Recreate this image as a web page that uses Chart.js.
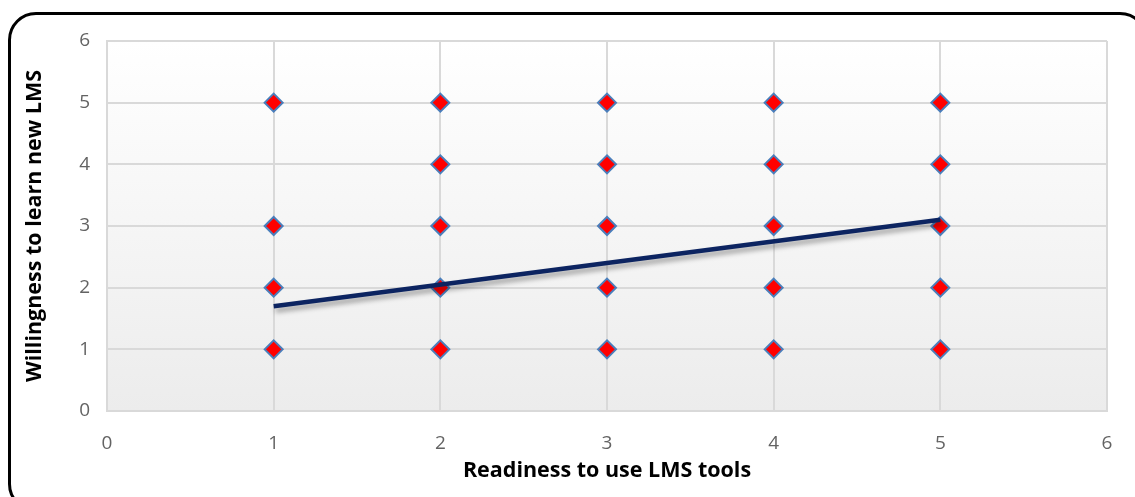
<!DOCTYPE html>
<html>
<head>
<meta charset="utf-8">
<script src="https://cdn.jsdelivr.net/npm/chart.js@4/dist/chart.umd.min.js"></script>
<style>
  html, body { margin: 0; padding: 0; background: #fff; overflow: hidden; }
  #wrap { position: relative; width: 1135px; height: 497px; }
  #frame {
    position: absolute; left: 8px; top: 12px; width: 1140px; height: 500px;
    border: 3px solid #000; border-radius: 28px; box-sizing: border-box;
    pointer-events: none;
  }
</style>
</head>
<body>
<div id="wrap">
  <canvas id="chart" width="1135" height="497"></canvas>
  <div id="frame"></div>
</div>
<script>
// survey responses: readiness (x) vs willingness (y)
const readiness   = [1, 1, 1, 1, 2, 2, 2, 2, 2, 3, 3, 3, 3, 3, 4, 4, 4, 4, 4, 5, 5, 5, 5, 5];
const willingness = [5, 3, 2, 1, 5, 4, 3, 2, 1, 5, 4, 3, 2, 1, 5, 4, 3, 2, 1, 5, 4, 3, 2, 1];

// linear trend endpoints
const trendX = [1, 5];
const trendY = [1.7, 3.1];

const axisMin = 0;
const axisMax = 6;

const points = readiness.map((x, i) => ({ x: x, y: willingness[i] }));
const trend = trendX.map((x, i) => ({ x: x, y: trendY[i] }));

// soft vertical gradient behind the plot area
const plotBackground = {
  id: "plotBackground",
  beforeDraw(chart) {
    const { ctx, chartArea: a } = chart;
    const g = ctx.createLinearGradient(0, a.top, 0, a.bottom);
    g.addColorStop(0, "#ffffff");
    g.addColorStop(1, "#ececec");
    ctx.save();
    ctx.fillStyle = g;
    ctx.fillRect(a.left, a.top, a.right - a.left, a.bottom - a.top);
    ctx.restore();
  },
};

// drop shadow under the trend line
const lineShadow = {
  id: "lineShadow",
  beforeDatasetDraw(chart, args) {
    if (args.index !== 0) return;
    const ctx = chart.ctx;
    ctx.save();
    ctx.shadowColor = "rgba(0, 0, 0, 0.35)";
    ctx.shadowBlur = 5;
    ctx.shadowOffsetX = 2;
    ctx.shadowOffsetY = 4;
  },
  afterDatasetDraw(chart, args) {
    if (args.index !== 0) return;
    chart.ctx.restore();
  },
};

const tickFont = { family: "'Open Sans', Lato, sans-serif", size: 19 };
const titleFont = { family: "'Open Sans', Lato, sans-serif", size: 21.5, weight: "bold" };
const gridColor = "#d9d9d9";
const tickColor = "#636363";

new Chart(document.getElementById("chart").getContext("2d"), {
  type: "scatter",
  data: {
    datasets: [
      {
        label: "Trend",
        type: "line",
        data: trend,
        borderColor: "#0c2461",
        borderWidth: 4.5,
        pointRadius: 0,
        fill: false,
        order: 0,
      },
      {
        label: "Responses",
        data: points,
        pointStyle: "rectRot",
        pointRadius: 9,
        pointBackgroundColor: "#ff0000",
        pointBorderColor: "#4a7ebb",
        pointBorderWidth: 2,
        order: 1,
      },
    ],
  },
  options: {
    responsive: false,
    animation: false,
    layout: { padding: { left: 0, top: 41, right: 28, bottom: 0 } },
    plugins: {
      legend: { display: false },
      tooltip: { enabled: false },
    },
    scales: {
      x: {
        type: "linear",
        min: axisMin,
        max: axisMax,
        afterFit: (s) => { s.height = 86; },
        ticks: { stepSize: 1, color: tickColor, font: tickFont, padding: 21 },
        grid: { color: gridColor, lineWidth: 2, drawTicks: false },
        border: { color: gridColor, width: 2 },
        title: {
          display: true,
          text: "Readiness to use LMS tools",
          color: "#000",
          font: titleFont,
          padding: { top: 0, bottom: 13 },
        },
      },
      y: {
        type: "linear",
        min: axisMin,
        max: axisMax,
        afterFit: (s) => { s.width = 107; },
        ticks: { stepSize: 1, color: tickColor, font: tickFont, padding: 17 },
        grid: { color: gridColor, lineWidth: 2, drawTicks: false },
        border: { color: gridColor, width: 2 },
        title: {
          display: true,
          text: "Willingness to learn new LMS",
          color: "#000",
          font: titleFont,
          padding: { top: 22, bottom: 0 },
        },
      },
    },
  },
  plugins: [plotBackground, lineShadow],
});
</script>
</body>
</html>
